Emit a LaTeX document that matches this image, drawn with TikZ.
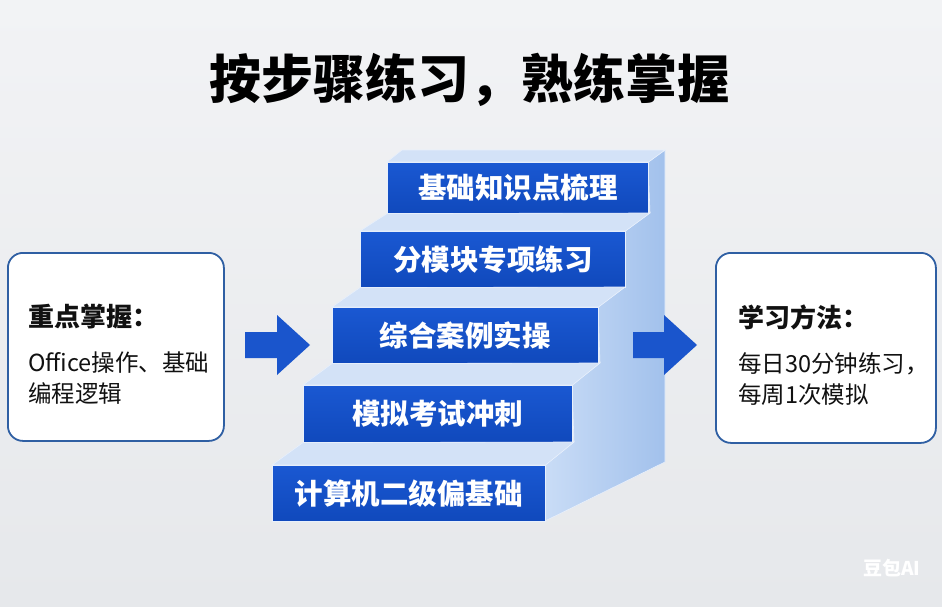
\documentclass[tikz,border=0pt]{standalone}
\usepackage{fontspec}
\setmainfont{Noto Sans CJK SC}
\newfontfamily\cjk{Noto Sans CJK SC}
\definecolor{bgtop}{HTML}{F2F3F5}
\definecolor{bgbot}{HTML}{E6E8EB}
\definecolor{frontc}{HTML}{1A58D2}
\definecolor{frontd}{HTML}{1049BC}
\definecolor{topc}{HTML}{D3E2F7}
\definecolor{sidel}{HTML}{C9DCF6}
\definecolor{sided}{HTML}{A2C1EC}
\definecolor{edgec}{HTML}{E8F0FC}
\definecolor{boxline}{HTML}{2F5FA3}
\definecolor{arrowc}{HTML}{1A55CC}
\definecolor{txt}{HTML}{111111}
\tikzset{
  stepfront/.style={draw=edgec, line width=0.6pt, top color=frontc, bottom color=frontd,
    anchor=north west, text=white, inner sep=0pt,
    font=\cjk\bfseries\fontsize{28.5}{30}\selectfont},
  topface/.style={fill=topc, draw=edgec, line width=0.6pt},
  infobox/.style={draw=boxline, line width=1.8pt, rounded corners=15pt, fill=white,
    anchor=north west, inner sep=0pt},
  headtxt/.style={anchor=west, text=txt, inner sep=0pt, font=\cjk\bfseries\fontsize{26}{28}\selectfont},
  bodytxt/.style={anchor=north west, text=txt, inner sep=0pt, align=left,
    font=\cjk\fontsize{23.5}{31}\selectfont},
  blockarrow/.style={fill=arrowc}
}
\begin{document}
\begin{tikzpicture}[x=1pt,y=-1pt]
\useasboundingbox (0,0) rectangle (942,607);
\shade[top color=bgtop, bottom color=bgbot] (0,0) rectangle (942,607);

% title
\node[font=\cjk\bfseries\fontsize{52}{56}\selectfont, text=black, inner sep=0pt] (title) at (469,80) {按步骤练习，熟练掌握};

% staircase side face
\shade[left color=sidel, right color=sided, draw=edgec, line width=0.6pt]
  (648,162) -- (665,150) -- (665,462) -- (545,521) -- (545,465) -- (574,442)
  -- (572,385) -- (600,363) -- (598,307) -- (625,287) -- (625,231) -- (650,213) -- (648,162) -- cycle;

% step front faces
\node[stepfront, minimum width=261pt, minimum height=51pt] (s1) at (387,162) {基础知识点梳理};
\node[stepfront, minimum width=265pt, minimum height=56pt] (s2) at (360,231) {分模块专项练习};
\node[stepfront, minimum width=266pt, minimum height=56pt] (s3) at (332,307) {综合案例实操};
\node[stepfront, minimum width=269pt, minimum height=57pt] (s4) at (303,385) {模拟考试冲刺};
\node[stepfront, minimum width=273pt, minimum height=56pt] (s5) at (272,465) {计算机二级偏基础};

% top faces
\filldraw[topface] (s1.north west) -- (s1.north east) -- (665,150) -- (402,150) -- cycle;
\filldraw[topface] (s2.north west) -- (s2.north east) -- (650,213) -- (s1.south west) -- cycle;
\filldraw[topface] (s3.north west) -- (s3.north east) -- (625,287) -- (s2.south west) -- cycle;
\filldraw[topface] (s4.north west) -- (s4.north east) -- (600,363) -- (s3.south west) -- cycle;
\filldraw[topface] (s5.north west) -- (s5.north east) -- (574,442) -- (s4.south west) -- cycle;

% left info box
\node[infobox, minimum width=216pt, minimum height=188pt] (lbox) at (7,252) {};
\node[headtxt] (lhead) at (28,317) {重点掌握：};
\node[bodytxt] (lbody) at (28,352) {Office操作、基础\\编程逻辑};

% right info box
\node[infobox, minimum width=220pt, minimum height=190pt] (rbox) at (715,252) {};
\node[headtxt] (rhead) at (738,317) {学习方法：};
\node[bodytxt] (rbody) at (738,352) {每日30分钟练习，\\每周1次模拟};

% arrows
\fill[blockarrow] (245,332) -- (277,332) -- (277,315) -- (310,345) -- (277,375) -- (277,358) -- (245,358) -- cycle;
\fill[blockarrow] (633,332) -- (664,332) -- (664,315) -- (697,345) -- (664,375) -- (664,358) -- (633,358) -- cycle;

% watermark
\node[anchor=west, inner sep=0pt, text=white, font=\cjk\bfseries\fontsize{19}{20}\selectfont] (wm) at (863,568) {豆包AI};
\end{tikzpicture}
\end{document}
